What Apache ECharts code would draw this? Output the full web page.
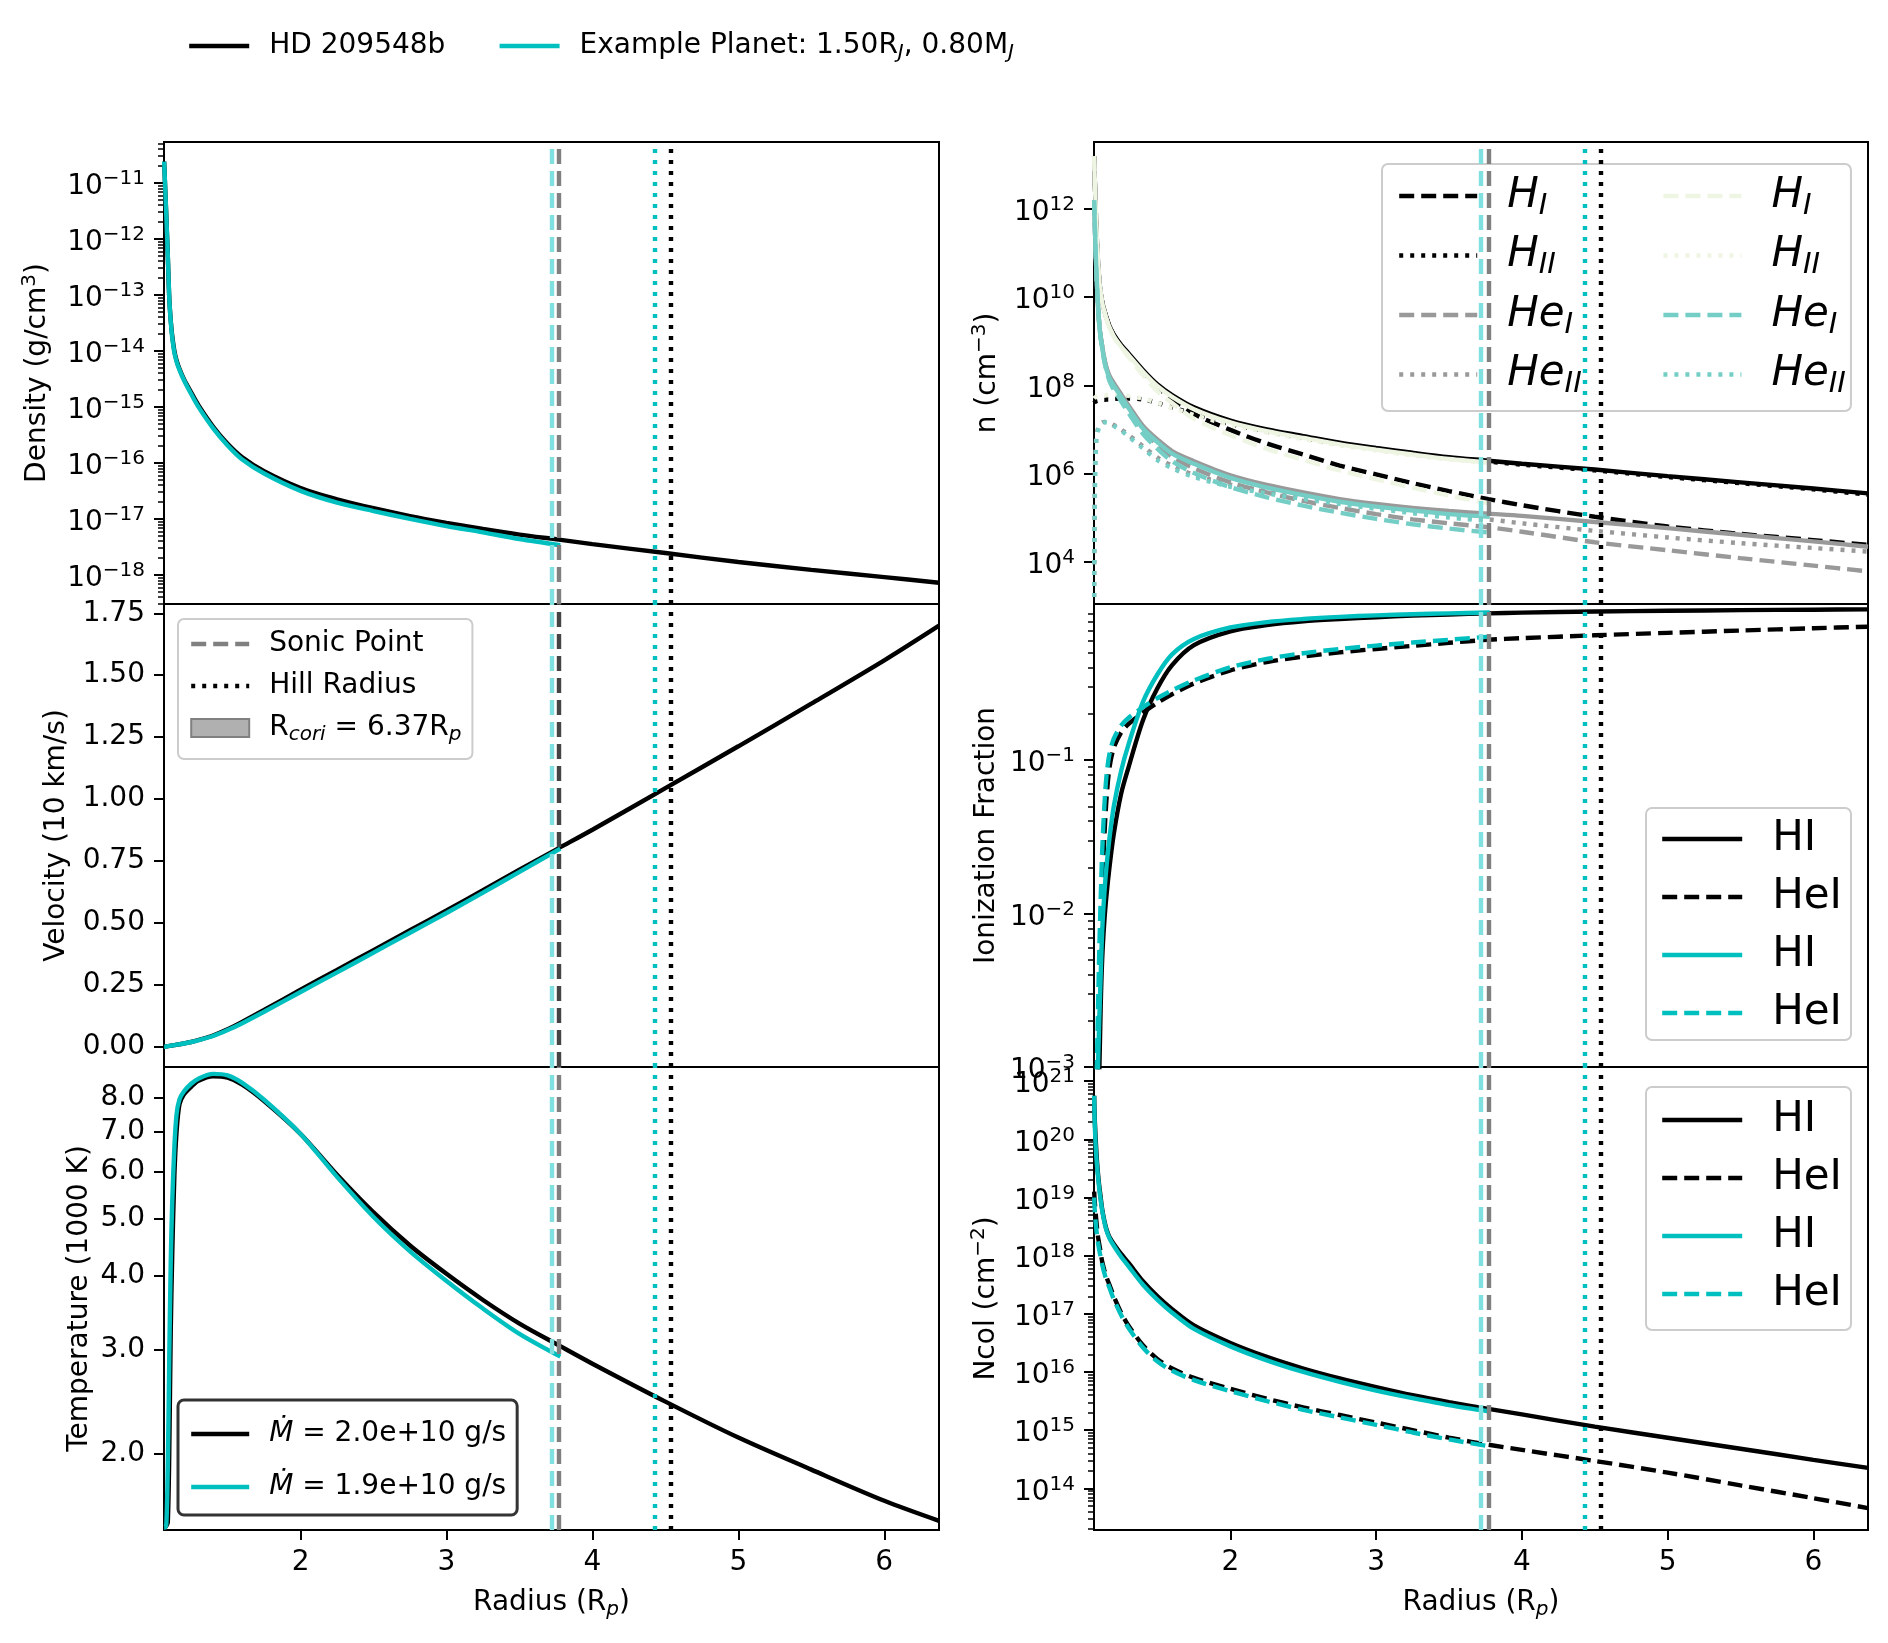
<!DOCTYPE html>
<html>
<head>
<meta charset="utf-8">
<title>Outflow profiles</title>
<script src="https://cdn.jsdelivr.net/npm/echarts@6/dist/echarts.min.js"></script>
<style>
  html, body { margin: 0; padding: 0; background: #fff; }
  #chart { width: 1888px; height: 1643px; }
</style>
</head>
<body>
<div id="chart"></div>
<script>
// radius grids (R_p) for the two planets
var rHD = [1.065, 1.07, 1.08, 1.09, 1.1, 1.11, 1.12, 1.135, 1.15, 1.17, 1.2, 1.25, 1.3, 1.4, 1.5, 1.6, 1.75, 2.0, 2.25, 2.5, 2.75, 3.0, 3.25, 3.5, 3.77, 4.0, 4.5, 5.0, 5.5, 6.0, 6.375];
var rEx = [1.065, 1.07, 1.08, 1.09, 1.1, 1.11, 1.12, 1.135, 1.15, 1.17, 1.2, 1.25, 1.3, 1.4, 1.5, 1.6, 1.75, 2.0, 2.25, 2.5, 2.75, 3.0, 3.25, 3.5, 3.78];

// markers: [HD 209548b, example planet]
var sonicR = [3.767, 3.72];
var hillR = [4.54, 4.43];
var rCori = 6.37;
var mdotText = ['2.0e+10', '1.9e+10'];
var exRadius = '1.50', exMass = '0.80';

// density, log10 g/cm^3
var logDensHD = [-10.62, -10.95, -11.6, -12.3, -13.05, -13.45, -13.72, -14.0, -14.17, -14.32, -14.5, -14.74, -14.97, -15.35, -15.66, -15.9, -16.15, -16.45, -16.65, -16.81, -16.95, -17.07, -17.18, -17.28, -17.37, -17.45, -17.61, -17.77, -17.91, -18.04, -18.14];
var logDensEx = [-10.62, -10.95, -11.6, -12.3, -13.05, -13.47, -13.75, -14.03, -14.19, -14.34, -14.52, -14.77, -15.0, -15.38, -15.69, -15.94, -16.19, -16.5, -16.71, -16.86, -17.0, -17.13, -17.24, -17.36, -17.47];

// velocity, 10 km/s
var velHD = [0.0, 0.0, 0.001, 0.002, 0.003, 0.004, 0.005, 0.006, 0.008, 0.01, 0.013, 0.019, 0.027, 0.045, 0.07, 0.1, 0.148, 0.23, 0.31, 0.39, 0.47, 0.55, 0.632, 0.715, 0.802, 0.876, 1.044, 1.213, 1.385, 1.56, 1.70];
var velEx = [0.0, 0.0, 0.001, 0.002, 0.003, 0.004, 0.005, 0.006, 0.008, 0.01, 0.013, 0.019, 0.026, 0.043, 0.067, 0.095, 0.141, 0.221, 0.3, 0.38, 0.46, 0.54, 0.622, 0.706, 0.80];

// temperature, 1000 K
var tempHD = [1.50, 1.50, 1.51, 1.53, 2.0, 3.2, 4.3, 5.9, 7.0, 7.8, 8.1, 8.35, 8.55, 8.70, 8.65, 8.42, 7.9, 6.95, 5.93, 5.12, 4.5, 4.03, 3.64, 3.32, 3.05, 2.84, 2.45, 2.13, 1.88, 1.665, 1.54];
var tempEx = [1.50, 1.50, 1.52, 1.9, 2.9, 4.2, 5.3, 6.6, 7.5, 7.95, 8.2, 8.45, 8.62, 8.78, 8.73, 8.48, 7.94, 6.95, 5.88, 5.03, 4.4, 3.92, 3.52, 3.19, 2.92];

// number densities, log10 cm^-3
var logNHHD    = [13.2, 12.6, 11.6, 10.9, 10.4, 10.1, 9.9, 9.7, 9.53, 9.35, 9.15, 8.92, 8.73, 8.35, 8.02, 7.78, 7.5, 7.2, 7.0, 6.85, 6.7, 6.58, 6.47, 6.37, 6.29, 6.22, 6.09, 5.94, 5.8, 5.66, 5.55];
var logNHIHD   = [13.2, 12.6, 11.6, 10.9, 10.4, 10.1, 9.9, 9.7, 9.53, 9.35, 9.14, 8.9, 8.7, 8.3, 7.95, 7.7, 7.35, 6.99, 6.68, 6.43, 6.18, 5.98, 5.78, 5.6, 5.42, 5.28, 5.02, 4.8, 4.63, 4.49, 4.38];
var logNHIIHD  = [7.6, 7.62, 7.64, 7.65, 7.66, 7.66, 7.67, 7.67, 7.68, 7.68, 7.69, 7.7, 7.7, 7.68, 7.6, 7.5, 7.35, 7.12, 6.95, 6.8, 6.67, 6.55, 6.44, 6.35, 6.27, 6.2, 6.07, 5.92, 5.78, 5.64, 5.52];
var logNHeHD   = [12.2, 11.6, 10.6, 9.9, 9.4, 9.1, 8.9, 8.6, 8.4, 8.22, 8.05, 7.8, 7.55, 7.08, 6.77, 6.51, 6.28, 5.96, 5.74, 5.57, 5.42, 5.31, 5.22, 5.15, 5.09, 5.04, 4.9, 4.76, 4.61, 4.46, 4.34];
var logNHeIHD  = [12.2, 11.6, 10.6, 9.9, 9.4, 9.1, 8.9, 8.6, 8.38, 8.15, 7.95, 7.7, 7.45, 6.98, 6.65, 6.38, 6.12, 5.8, 5.57, 5.38, 5.22, 5.08, 4.96, 4.87, 4.78, 4.68, 4.44, 4.26, 4.08, 3.91, 3.78];
var logNHeIIHD = [3.2, 6.0, 6.85, 7.0, 7.08, 7.13, 7.16, 7.17, 7.17, 7.15, 7.1, 7.0, 6.88, 6.62, 6.36, 6.18, 5.97, 5.75, 5.6, 5.47, 5.36, 5.25, 5.15, 5.05, 4.96, 4.87, 4.7, 4.55, 4.42, 4.31, 4.23];
var logNHEx    = [13.2, 12.6, 11.6, 10.9, 10.4, 10.1, 9.88, 9.68, 9.5, 9.32, 9.11, 8.88, 8.69, 8.31, 7.98, 7.74, 7.46, 7.16, 6.96, 6.81, 6.66, 6.54, 6.43, 6.33, 6.25];
var logNHIEx   = [13.2, 12.6, 11.6, 10.9, 10.4, 10.1, 9.88, 9.68, 9.5, 9.32, 9.1, 8.86, 8.65, 8.23, 7.86, 7.6, 7.24, 6.87, 6.56, 6.31, 6.07, 5.87, 5.68, 5.5, 5.32];
var logNHIIEx  = [7.7, 7.72, 7.74, 7.75, 7.76, 7.76, 7.77, 7.77, 7.78, 7.78, 7.78, 7.78, 7.76, 7.7, 7.6, 7.49, 7.33, 7.1, 6.93, 6.78, 6.64, 6.52, 6.41, 6.32, 6.24];
var logNHeEx   = [12.2, 11.6, 10.6, 9.9, 9.38, 9.07, 8.86, 8.55, 8.35, 8.16, 7.99, 7.74, 7.49, 7.02, 6.71, 6.45, 6.22, 5.9, 5.68, 5.51, 5.36, 5.25, 5.16, 5.08, 5.02];
var logNHeIEx  = [12.2, 11.6, 10.6, 9.9, 9.38, 9.07, 8.86, 8.55, 8.33, 8.1, 7.9, 7.64, 7.38, 6.9, 6.56, 6.28, 6.01, 5.69, 5.46, 5.27, 5.11, 4.97, 4.85, 4.75, 4.66];
var logNHeIIEx = [3.2, 5.5, 6.75, 6.95, 7.05, 7.1, 7.14, 7.16, 7.16, 7.14, 7.08, 6.97, 6.84, 6.57, 6.3, 6.12, 5.92, 5.7, 5.55, 5.42, 5.31, 5.2, 5.1, 5.0, 4.92];

// ionization fractions, log10
var logIonHHD  = [-4.2, -4.0, -3.7, -3.35, -3.05, -2.6, -2.3, -2.05, -1.88, -1.7, -1.48, -1.22, -1.05, -0.74, -0.53, -0.38, -0.25, -0.16, -0.12, -0.095, -0.08, -0.068, -0.058, -0.05, -0.043, -0.038, -0.031, -0.026, -0.022, -0.019, -0.017];
var logIonHeHD = [-4.2, -4.0, -3.6, -3.1, -2.6, -2.2, -1.85, -1.5, -1.25, -1.05, -0.92, -0.82, -0.765, -0.69, -0.625, -0.57, -0.5, -0.415, -0.36, -0.325, -0.297, -0.275, -0.255, -0.235, -0.215, -0.205, -0.186, -0.17, -0.155, -0.14, -0.13];
var logIonHEx  = [-4.2, -3.9, -3.5, -3.05, -2.7, -2.4, -2.12, -1.87, -1.69, -1.51, -1.3, -1.07, -0.9, -0.62, -0.44, -0.31, -0.21, -0.135, -0.1, -0.08, -0.066, -0.056, -0.049, -0.043, -0.037];
var logIonHeEx = [-4.2, -3.7, -3.2, -2.7, -2.25, -1.9, -1.6, -1.3, -1.1, -0.96, -0.86, -0.775, -0.725, -0.655, -0.595, -0.545, -0.48, -0.395, -0.34, -0.303, -0.275, -0.253, -0.233, -0.215, -0.195];

// column densities, log10 cm^-2
var logNcolHHD  = [20.75, 20.3, 19.8, 19.45, 19.2, 19.0, 18.8, 18.6, 18.45, 18.32, 18.2, 18.03, 17.88, 17.56, 17.3, 17.08, 16.8, 16.5, 16.26, 16.06, 15.89, 15.74, 15.6, 15.48, 15.365, 15.27, 15.06, 14.87, 14.68, 14.49, 14.35];
var logNcolHeHD = [19.1, 18.9, 18.6, 18.35, 18.2, 18.05, 17.9, 17.75, 17.63, 17.5, 17.3, 17.02, 16.8, 16.46, 16.22, 16.06, 15.9, 15.71, 15.54, 15.39, 15.26, 15.13, 15.0, 14.87, 14.75, 14.66, 14.47, 14.27, 14.05, 13.83, 13.66];
var logNcolHEx  = [20.75, 20.2, 19.7, 19.4, 19.15, 18.95, 18.78, 18.58, 18.43, 18.3, 18.17, 17.98, 17.82, 17.5, 17.24, 17.02, 16.74, 16.44, 16.2, 16.0, 15.83, 15.68, 15.55, 15.43, 15.32];
var logNcolHeEx = [19.0, 18.75, 18.45, 18.25, 18.1, 17.97, 17.85, 17.7, 17.58, 17.45, 17.25, 16.98, 16.76, 16.42, 16.18, 16.02, 15.86, 15.67, 15.5, 15.35, 15.22, 15.09, 14.96, 14.84, 14.72];

// tick labels
var radiusTicks = [2, 3, 4, 5, 6];
var densTicks = [1e-18, 1e-17, 1e-16, 1e-15, 1e-14, 1e-13, 1e-12, 1e-11];
var velTicks = [0, 0.25, 0.5, 0.75, 1.0, 1.25, 1.5, 1.75];
var tempTicks = [2, 3, 4, 5, 6, 7, 8];
var nTicks = [1e4, 1e6, 1e8, 1e10, 1e12];
var ionTicks = [1e-3, 1e-2, 1e-1];
var ncolTicks = [1e14, 1e15, 1e16, 1e17, 1e18, 1e19, 1e20, 1e21];

var FONT = 'DejaVu Sans';
var BLACK = '#000000', CYAN = '#00bfbf', CYAN_LT = '#80dfdf', GRAY = '#808080';
var HE_GRAY = '#999999', EX_H = '#eef5e3', EX_HE = '#74cec5';
var DASH = [15, 7], DOT = [4, 7];
var LW = 4.4;

function pow10(list) { return list.map(function (v) { return Math.pow(10, v); }); }
function pairs(xs, ys) { return xs.map(function (x, i) { return [x, ys[i]]; }); }
function minorLog(e0, e1) {
  var out = [];
  for (var e = e0; e <= e1; e++) for (var k = 2; k <= 9; k++) out.push(k * Math.pow(10, e));
  return out;
}
function powLabel(v) {
  var e = Math.round(Math.log10(v));
  return '10{sup|' + (e < 0 ? '\u2212' + (-e) : e) + '}';
}

var supRich = { sup: { fontSize: 20, fontFamily: FONT, color: '#000', padding: [0, 0, 16, 0] } };
var subRich = { sub: { fontSize: 20, fontFamily: FONT, color: '#000', fontStyle: 'italic', padding: [14, 0, 0, 0] } };
var nameStyle = { fontSize: 28, fontFamily: FONT, color: '#000', rich: Object.assign({}, supRich, subRich) };

var panels = [
  { left: 164, top: 142, width: 775, height: 462 },
  { left: 164, top: 604, width: 775, height: 463 },
  { left: 164, top: 1067, width: 775, height: 463 },
  { left: 1094, top: 142, width: 774, height: 462 },
  { left: 1094, top: 604, width: 774, height: 463 },
  { left: 1094, top: 1067, width: 774, height: 463 }
];
var grids = panels.map(function (p) {
  return Object.assign({ show: true, borderColor: '#000', borderWidth: 2, containLabel: false }, p);
});

var xAxes = panels.map(function (p, i) {
  var bottom = (i === 2 || i === 5);
  return {
    type: 'value', gridIndex: i, min: 1.064, max: 6.375, position: 'bottom',
    axisLine: { show: false, onZero: false },
    splitLine: { show: false },
    axisTick: { show: bottom, customValues: radiusTicks, length: 10, lineStyle: { color: '#000', width: 2 } },
    axisLabel: { show: bottom, customValues: radiusTicks, margin: 19, fontSize: 28, fontFamily: FONT, color: '#000' },
    name: bottom ? 'Radius (R{sub|p})' : '', nameLocation: 'middle', nameGap: 56, nameTextStyle: nameStyle
  };
});

function yAxis(g, type, min, max, ticks, fmt, name, gap, pad) {
  return {
    type: type, gridIndex: g, position: 'left', min: min, max: max,
    name: name, nameLocation: 'middle', nameGap: gap, nameRotate: 90, nameTextStyle: nameStyle,
    axisLine: { show: false, onZero: false },
    splitLine: { show: false },
    axisTick: { show: true, customValues: ticks, length: 10, lineStyle: { color: '#000', width: 2 } },
    axisLabel: { show: true, customValues: ticks, formatter: fmt, margin: 19, fontSize: 28, fontFamily: FONT,
      color: '#000', rich: supRich, padding: pad || 0 }
  };
}
function minorAxis(g, min, max, ticks) {
  return {
    type: 'log', gridIndex: g, position: 'left', min: min, max: max,
    axisLine: { show: false, onZero: false }, splitLine: { show: false },
    axisLabel: { show: false },
    axisTick: { show: true, customValues: ticks, length: 6, lineStyle: { color: '#000', width: 1.5 } }
  };
}

var densMin = Math.pow(10, -18.52), densMax = Math.pow(10, -10.27);
var nMin = Math.pow(10, 3.04), nMax = Math.pow(10, 13.52);
var ionMin = 0.000999, ionMax = Math.pow(10, 0.018);
var ncolMin = Math.pow(10, 13.283), ncolMax = Math.pow(10, 21.244);
var powPad = [8, 0, 0, 0];

var yAxes = [
  yAxis(0, 'log', densMin, densMax, densTicks, powLabel, 'Density (g/cm{sup|3})', 108, powPad),
  yAxis(1, 'value', -0.082, 1.7875, velTicks, function (v) { return v.toFixed(2); }, 'Velocity (10 km/s)', 93),
  yAxis(2, 'log', 1.486, 9.02, tempTicks, function (v) { return v.toFixed(1); }, 'Temperature (1000 K)', 70),
  yAxis(3, 'log', nMin, nMax, nTicks, powLabel, 'n (cm{sup|\u22123})', 88, powPad),
  yAxis(4, 'log', ionMin, ionMax, ionTicks, powLabel, 'Ionization Fraction', 93, powPad),
  yAxis(5, 'log', ncolMin, ncolMax, ncolTicks, powLabel, 'Ncol (cm{sup|\u22122})', 89, powPad),
  minorAxis(0, densMin, densMax, minorLog(-19, -11)),
  minorAxis(4, ionMin, ionMax, minorLog(-3, -1)),
  minorAxis(5, ncolMin, ncolMax, minorLog(13, 20))
];

function curve(name, g, xs, ys, color, type) {
  return {
    type: 'line', name: name, xAxisIndex: g, yAxisIndex: g,
    data: pairs(xs, ys), symbol: 'none', showSymbol: false, smooth: 0.3,
    lineStyle: { color: color, width: LW, type: type || 'solid' },
    itemStyle: { color: color }, z: 3, silent: true, animation: false
  };
}
function vline(x, color, type) {
  return { xAxis: x, lineStyle: { color: color, type: type, width: LW } };
}
function markers(name, g, lines, color, type) {
  return {
    type: 'line', name: name, xAxisIndex: g, yAxisIndex: g, data: [],
    symbol: 'none', lineStyle: { color: color || GRAY, type: type || DASH, width: LW },
    itemStyle: { color: color || GRAY }, z: 2, animation: false,
    markLine: { silent: true, symbol: ['none', 'none'], label: { show: false }, animation: false, data: lines }
  };
}
function refLines(g) {
  return markers('refs' + g, g, [
    vline(sonicR[1], CYAN_LT, DASH), vline(sonicR[0], GRAY, DASH),
    vline(hillR[1], CYAN, DOT), vline(hillR[0], BLACK, DOT)
  ]);
}

var series = [
  refLines(0),
  curve('HD 209548b', 0, rHD, pow10(logDensHD), BLACK),
  curve('Example Planet', 0, rEx, pow10(logDensEx), CYAN),

  markers('Sonic Point', 1, [vline(sonicR[1], CYAN_LT, DASH), vline(sonicR[0], '#444444', DASH)], GRAY, DASH),
  markers('Hill Radius', 1, [vline(hillR[1], CYAN, DOT), vline(hillR[0], BLACK, DOT)], BLACK, DOT),
  markers('Rcori', 1, [], '#b0b0b0', 'solid'),
  curve('vel HD', 1, rHD, velHD, BLACK),
  curve('vel Ex', 1, rEx, velEx, CYAN),

  refLines(2),
  curve('Mdot HD', 2, rHD, tempHD, BLACK),
  curve('Mdot Ex', 2, rEx, tempEx, CYAN),

  refLines(3),
  curve('nH HD', 3, rHD, pow10(logNHHD), BLACK),
  curve('nHI HD', 3, rHD, pow10(logNHIHD), BLACK, DASH),
  curve('nHII HD', 3, rHD, pow10(logNHIIHD), BLACK, DOT),
  curve('nHe HD', 3, rHD, pow10(logNHeHD), HE_GRAY),
  curve('nHeI HD', 3, rHD, pow10(logNHeIHD), HE_GRAY, DASH),
  curve('nHeII HD', 3, rHD, pow10(logNHeIIHD), HE_GRAY, DOT),
  curve('nH Ex', 3, rEx, pow10(logNHEx), EX_H),
  curve('nHI Ex', 3, rEx, pow10(logNHIEx), EX_H, DASH),
  curve('nHII Ex', 3, rEx, pow10(logNHIIEx), EX_H, DOT),
  curve('nHe Ex', 3, rEx, pow10(logNHeEx), EX_HE),
  curve('nHeI Ex', 3, rEx, pow10(logNHeIEx), EX_HE, DASH),
  curve('nHeII Ex', 3, rEx, pow10(logNHeIIEx), EX_HE, DOT),

  refLines(4),
  curve('fHI HD', 4, rHD, pow10(logIonHHD), BLACK),
  curve('fHeI HD', 4, rHD, pow10(logIonHeHD), BLACK, DASH),
  curve('fHI Ex', 4, rEx, pow10(logIonHEx), CYAN),
  curve('fHeI Ex', 4, rEx, pow10(logIonHeEx), CYAN, DASH),

  refLines(5),
  curve('cHI HD', 5, rHD, pow10(logNcolHHD), BLACK),
  curve('cHeI HD', 5, rHD, pow10(logNcolHeHD), BLACK, DASH),
  curve('cHI Ex', 5, rEx, pow10(logNcolHEx), CYAN),
  curve('cHeI Ex', 5, rEx, pow10(logNcolHeEx), CYAN, DASH)
];

var legendText = {
  'Example Planet': 'Example Planet: ' + exRadius + 'R{sub|J}, ' + exMass + 'M{sub|J}',
  'Rcori': 'R{sub|cori} = ' + rCori.toFixed(2) + 'R{sub|p}',
  'Mdot HD': '{it|\u1E40} = ' + mdotText[0] + ' g/s',
  'Mdot Ex': '{it|\u1E40} = ' + mdotText[1] + ' g/s',
  'nHI HD': '{it|H}{isub|I}', 'nHII HD': '{it|H}{isub|II}', 'nHeI HD': '{it|He}{isub|I}', 'nHeII HD': '{it|He}{isub|II}',
  'nHI Ex': '{it|H}{isub|I}', 'nHII Ex': '{it|H}{isub|II}', 'nHeI Ex': '{it|He}{isub|I}', 'nHeII Ex': '{it|He}{isub|II}',
  'fHI HD': 'HI', 'fHeI HD': 'HeI', 'fHI Ex': 'HI', 'fHeI Ex': 'HeI',
  'cHI HD': 'HI', 'cHeI HD': 'HeI', 'cHI Ex': 'HI', 'cHeI Ex': 'HeI'
};
function legendFmt(name) { return legendText[name] || name; }

var smallRich = {
  sub: { fontSize: 20, fontFamily: FONT, color: '#000', fontStyle: 'italic', padding: [14, 0, 0, 0] },
  it: { fontSize: 28, fontFamily: FONT, color: '#000', fontStyle: 'italic' }
};
var bigRich = {
  it: { fontSize: 42, fontFamily: FONT, color: '#000', fontStyle: 'italic' },
  isub: { fontSize: 29, fontFamily: FONT, color: '#000', fontStyle: 'italic', padding: [20, 0, 0, 0] }
};
function legendBox(opts) {
  return Object.assign({
    orient: 'vertical', selectedMode: false, formatter: legendFmt,
    itemStyle: { opacity: 0 }, lineStyle: { width: LW },
    backgroundColor: 'rgba(255,255,255,0.8)', borderColor: '#cccccc', borderWidth: 2, borderRadius: 6
  }, opts);
}

var legends = [
  legendBox({
    orient: 'horizontal', left: 187, top: 29, padding: 0, itemGap: 52, itemWidth: 60, itemHeight: 14,
    backgroundColor: 'transparent', borderWidth: 0,
    data: ['HD 209548b', 'Example Planet'],
    textStyle: { fontSize: 28, fontFamily: FONT, color: '#000', lineHeight: 34, padding: [0, 0, 0, 15], rich: smallRich }
  }),
  legendBox({
    left: 178, top: 619, padding: [8, 11, 14, 11], itemGap: 8, itemWidth: 58, itemHeight: 18,
    data: ['Sonic Point', 'Hill Radius',
      { name: 'Rcori', icon: 'rect', itemStyle: { color: '#b0b0b0', borderColor: '#808080', borderWidth: 2, opacity: 1 } }],
    textStyle: { fontSize: 28, fontFamily: FONT, color: '#000', lineHeight: 34, padding: [0, 0, 0, 15], rich: smallRich }
  }),
  legendBox({
    left: 178, top: 1400, padding: [14, 11, 8, 11], itemGap: 13, itemWidth: 58, itemHeight: 14,
    backgroundColor: '#ffffff', borderColor: '#333333', borderWidth: 3,
    data: ['Mdot HD', 'Mdot Ex'],
    textStyle: { fontSize: 28, fontFamily: FONT, color: '#000', lineHeight: 40, padding: [0, 0, 0, 15], rich: smallRich }
  }),
  legendBox({
    left: 1382, top: 164, padding: [8, 5, 12, 15], itemGap: 11, itemWidth: 78, itemHeight: 14, height: 262,
    data: [
      { name: 'nHI HD', textStyle: { width: 143 } }, { name: 'nHII HD', textStyle: { width: 143 } },
      { name: 'nHeI HD', textStyle: { width: 143 } }, { name: 'nHeII HD', textStyle: { width: 143 } },
      'nHI Ex', 'nHII Ex', 'nHeI Ex', 'nHeII Ex'
    ],
    textStyle: { fontSize: 42, fontFamily: FONT, color: '#000', lineHeight: 48, padding: [0, 0, 0, 25], rich: bigRich }
  }),
  legendBox({
    left: 1646, top: 808, padding: [9, 9, 5, 14], itemGap: 14, itemWidth: 80, itemHeight: 14,
    data: ['fHI HD', 'fHeI HD', 'fHI Ex', 'fHeI Ex'],
    textStyle: { fontSize: 42, fontFamily: FONT, color: '#000', lineHeight: 44, padding: [0, 0, 0, 25] }
  }),
  legendBox({
    left: 1646, top: 1087, padding: [11, 9, 14, 14], itemGap: 14, itemWidth: 80, itemHeight: 14,
    data: ['cHI HD', 'cHeI HD', 'cHI Ex', 'cHeI Ex'],
    textStyle: { fontSize: 42, fontFamily: FONT, color: '#000', lineHeight: 44, padding: [0, 0, 0, 25] }
  })
];

var chart = echarts.init(document.getElementById('chart'), null, { renderer: 'canvas' });
chart.setOption({
  backgroundColor: '#ffffff',
  animation: false,
  textStyle: { fontFamily: FONT },
  grid: grids,
  xAxis: xAxes,
  yAxis: yAxes,
  legend: legends,
  series: series
});
</script>
</body>
</html>
